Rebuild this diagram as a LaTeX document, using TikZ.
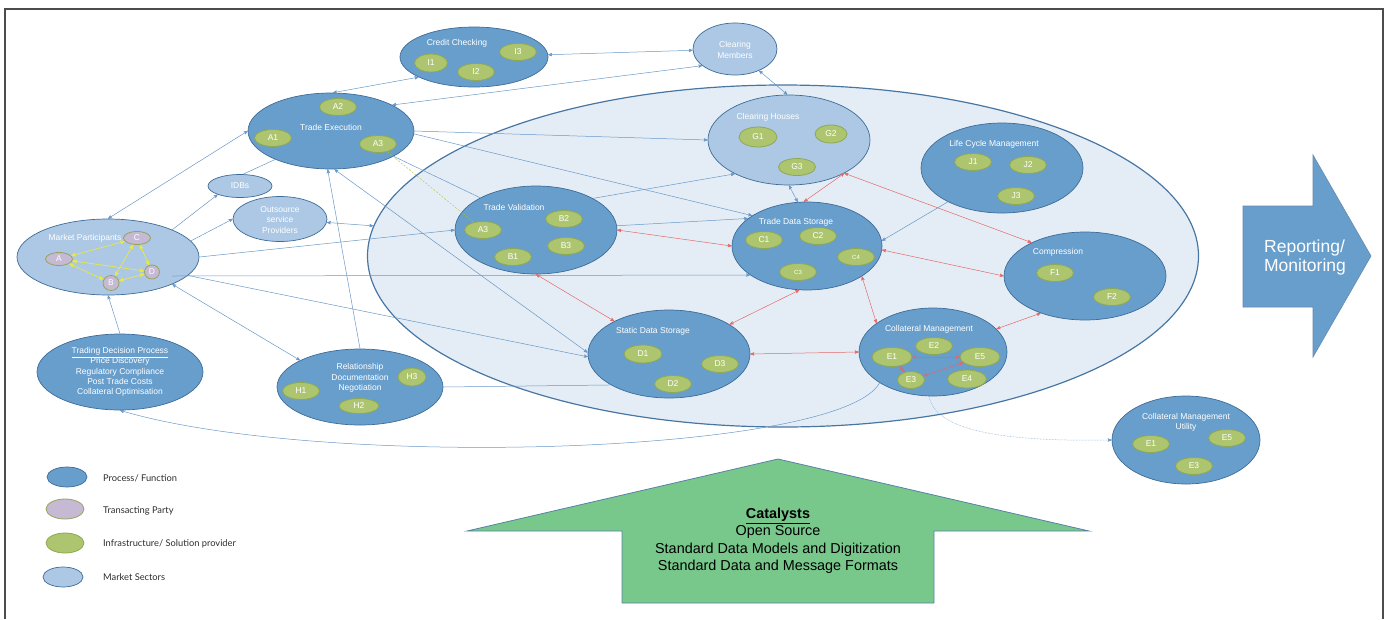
\documentclass[tikz,border=0pt]{standalone}
\usepackage{fontspec}
\setmainfont{Liberation Sans}
\setsansfont{Liberation Sans}
\newfontfamily\legendfont{Lato}
\usetikzlibrary{arrows,shapes.geometric,positioning,calc}
\definecolor{procfill}{RGB}{104,158,204}
\definecolor{procline}{RGB}{62,108,152}
\definecolor{sectfill}{RGB}{172,200,228}
\definecolor{bigfill}{RGB}{228,237,246}
\definecolor{bigline}{RGB}{72,118,163}
\definecolor{infrafill}{RGB}{174,197,112}
\definecolor{infraline}{RGB}{142,168,84}
\definecolor{partyfill}{RGB}{197,185,212}
\definecolor{partyline}{RGB}{150,163,95}
\definecolor{flowblue}{RGB}{104,152,200}
\definecolor{linkred}{RGB}{228,104,104}
\definecolor{linkyellow}{RGB}{232,232,70}
\definecolor{catfill}{RGB}{120,200,140}
\definecolor{catline}{RGB}{88,130,165}
\definecolor{legink}{RGB}{45,45,45}
\tikzset{>=stealth',
  wh/.style 2 args={minimum width=#1pt,minimum height=#2pt},
  process/.style={ellipse,draw=procline,fill=procfill,line width=0.7pt,inner sep=0pt},
  sector/.style={process,fill=sectfill},
  infra/.style={ellipse,draw=infraline,fill=infrafill,line width=0.8pt,inner sep=0pt,
    wh={37}{17},text=white,font=\fontsize{8.5}{10}\selectfont},
  party/.style={infra,draw=partyline,fill=partyfill,wh={27}{13}},
  texto/.style={text=white,align=center,inner sep=0pt,font=\fontsize{8.5}{10.3}\selectfont},
  legtext/.style={text=legink,anchor=west,inner sep=0pt,font=\legendfont\fontsize{9.3}{11}\selectfont},
  flow/.style={draw=flowblue,line width=0.5pt},
  link/.style={<->,draw=linkred,line width=0.5pt},
  peer/.style={<->,draw=linkyellow,line width=0.7pt},
  hint/.style={draw=infraline!70!yellow,line width=0.4pt,dash pattern=on 2pt off 1.5pt},
  frame/.style={draw=black!70,line width=1.2pt}
}
\newcommand\Infra[4][]{\node[infra,#1] (#2) at (#3) {#4};}
\begin{document}
\begin{tikzpicture}[x=1pt,y=-1pt]
\useasboundingbox (0,0) rectangle (1389,619);
\draw[frame] (5,619) -- (5,9) -- (1383,9) -- (1383,619);

% the market sector backdrop
\node[ellipse,draw=bigline,fill=bigfill,line width=1.2pt,wh={831}{342}] (sector) at (783,256) {};

% processes, sectors and their providers
\node[process,wh={148}{60}] (cc) at (474,57) {};
\node[texto] (cc-t) at (457,43) {Credit Checking};
\Infra[wh={33}{18}]{i1}{431,63}{I1}
\Infra{i2}{476,72}{I2}
\Infra{i3}{518,52}{I3}

\node[sector,wh={84}{52}] (cmem) at (735,49) {};
\node[texto] (cmem-t) at (735,50) {Clearing\\Members};

\node[process,wh={166}{76}] (te) at (331,131) {};
\node[texto] (te-t) at (331,127) {Trade Execution};
\Infra{tea1}{273,138}{A1}
\Infra{tea2}{338,107}{A2}
\Infra{tea3}{378,144}{A3}

\node[sector,wh={64}{23}] (idb) at (240,186) {};
\node[texto] (idb-t) at (240,186) {IDBs};
\node[sector,wh={94}{45}] (osp) at (280,219) {};
\node[texto] (osp-t) at (280,220) {Outsource\\service\\Providers};

\node[sector,wh={182}{76}] (mp) at (108,257) {};
\node[texto] (mp-t) at (85,238) {Market Participants};
\node[party] (pc) at (137,238) {C};
\node[party] (pa) at (59,259) {A};
\node[party,wh={16}{15}] (pb) at (111,283) {B};
\node[party,wh={15}{14}] (pd) at (152,272) {D};

\node[process,wh={166}{76}] (tdp) at (120,372) {};
\node[texto] (tdp-t) at (120,372) {\underline{Trading Decision Process}\\Price Discovery\\Regulatory Compliance\\Post Trade Costs\\Collateral Optimisation};

\node[process,wh={166}{76}] (rdn) at (360,387) {};
\node[texto] (rdn-t) at (360,378) {Relationship\\Documentation\\Negotiation};
\Infra{h1}{301,391}{H1}
\Infra[wh={40}{15}]{h2}{359,406}{H2}
\Infra[wh={28}{18}]{h3}{412,377}{H3}

\node[process,wh={162}{88}] (tv) at (536,230) {};
\node[texto] (tv-t) at (514,207) {Trade Validation};
\Infra{tva3}{483,230}{A3}
\Infra{b2}{564,219}{B2}
\Infra{b3}{566,246}{B3}
\Infra{b1}{513,257}{B1}

\node[sector,wh={162}{90}] (ch) at (789,140) {};
\node[texto] (ch-t) at (768,117) {Clearing Houses};
\Infra[wh={38}{20}]{g1}{758,137}{G1}
\Infra[wh={32}{18}]{g2}{831,134}{G2}
\Infra{g3}{797,167}{G3}

\node[process,wh={162}{90}] (lcm) at (1002,168) {};
\node[texto] (lcm-t) at (994,144) {Life Cycle Management};
\Infra{j1}{973,162}{J1}
\Infra{j2}{1028,165}{J2}
\Infra{j3}{1016,196}{J3}

\node[process,wh={150}{88}] (tds) at (807,246) {};
\node[texto] (tds-t) at (796,222) {Trade Data Storage};
\Infra{c1}{764,240}{C1}
\Infra{c2}{818,236}{C2}
\Infra[font=\fontsize{6}{7}\selectfont]{c4}{856,257}{C4}
\Infra[font=\fontsize{6}{7}\selectfont]{c3}{798,272}{C3}

\node[process,wh={162}{88}] (comp) at (1085,276) {};
\node[texto] (comp-t) at (1058,252) {Compression};
\Infra{f1}{1055,273}{F1}
\Infra{f2}{1112,297}{F2}

\node[process,wh={162}{88}] (sds) at (669,354) {};
\node[texto] (sds-t) at (653,331) {Static Data Storage};
\Infra[wh={38}{18}]{d1}{643,354}{D1}
\Infra{d3}{720,364}{D3}
\Infra{d2}{673,384}{D2}

\node[process,wh={148}{88}] (colm) at (933,352) {};
\node[texto] (colm-t) at (929,329) {Collateral Management};
\Infra{e2}{934,346}{E2}
\Infra[wh={40}{19}]{e1}{892,357}{E1}
\Infra[wh={40}{19}]{e5}{980,357}{E5}
\Infra[wh={27}{17}]{e3}{911,380}{E3}
\Infra[wh={39}{18}]{e4}{967,379}{E4}

\node[process,wh={148}{88}] (cmu) at (1186,440) {};
\node[texto] (cmu-t) at (1186,422) {Collateral Management\\Utility};
\Infra{ue1}{1151,444}{E1}
\Infra{ue5}{1227,438}{E5}
\Infra{ue3}{1194,466}{E3}

% blue flows
\draw[flow,<->] (te.87) -- (cc.200);
\draw[flow,<->] (cc) -- (cmem);
\draw[flow,<->] (cmem.207) -- (te.23);
\draw[flow,<->] (cmem.318) -- (ch.92);
\draw[flow,->] (te.east) -- (ch.west);
\draw[flow,->] (te.358) -- (tds.151);
\draw[flow] (te.338) -- (tv.150);
\draw[flow,<->] (te.275) -- (sds.179);
\draw[flow,->] (rdn.north) -- (te.265);
\coordinate (mp-h) at (172,276);
\draw[flow,->] (mp-h) -- (tds.207);
\draw[flow,->] (mp.east) -- (tv.west);
\draw[flow,->] (mp.11) -- (osp.west);
\draw[flow,->] (mp.23) -- (idb.201);
\draw[flow] (idb.75) -- (te.207);
\draw[flow,<->] (mp.north) -- (te.west);
\draw[flow,<->] (osp) -- (sector);
\draw[flow,->] (tdp.north) -- (mp.south);
\draw[flow,<->] (mp.337) -- (rdn.156);
\draw[flow,->] (mp.347) -- (sds.182);
\draw[flow] (rdn.east) -- (sds.208);
\draw[flow,->] (colm.210) .. controls (840,455) and (320,470) .. (tdp.south);
\draw[flow,densely dotted,->] (colm.265) .. controls (935,430) and (1000,442) .. (cmu.west);
\draw[flow,->] (tv.29) -- (ch.212);
\draw[flow,->] (tv.3) -- (tds.155);
\draw[flow,<->] (ch.south) -- (tds.102);
\draw[flow,->] (lcm.212) -- (tds.4);
\draw[hint] (tea3) -- (tva3);

% red links
\draw[link] (tv.east) -- (tds.west);
\draw[link] (tv.south) -- (sds.149);
\draw[link] (sds.26) -- (tds.260);
\draw[link] (sds.east) -- (colm.west);
\draw[link] (tds.331) -- (colm.153);
\draw[link] (tds.357) -- (comp.west);
\draw[link] (comp.220) -- (colm.20);
\draw[link] (ch.329) -- (tds.94);
\draw[link] (ch.329) -- (comp.148);
\draw[link] (e1) -- (e5);
\draw[link] (e1) -- (e3);
\draw[link] (e3) -- (e5);

% transacting parties
\draw[peer] (pa) -- (pc);
\draw[peer] (pa) -- (pd);
\draw[peer] (pa) -- (pb);
\draw[peer] (pb) -- (pc);
\draw[peer] (pc) -- (pd);
\draw[peer] (pb) -- (pd);

% big arrows
\draw[draw=catline,fill=catfill,line width=0.8pt] (622,603) -- (622,531) -- (467,531) -- (778,459)
  -- (1089,531) -- (934,531) -- (934,603) -- cycle;
\node[align=center,inner sep=0pt,font=\fontsize{14.4}{17.5}\selectfont] (cat-t) at (778,541)
  {\underline{\textbf{Catalysts}}\\Open Source\\Standard Data Models and Digitization\\Standard Data and Message Formats};
\draw[draw=procline!80,fill=procfill,line width=0.6pt] (1243,206) -- (1313,206) -- (1313,155) -- (1371,256)
  -- (1313,357) -- (1313,307) -- (1243,307) -- cycle;
\node[text=white,align=left,inner sep=0pt,font=\fontsize{17.5}{19}\selectfont] (rep-t) at (1305,257) {Reporting/\\Monitoring};

% legend
\node[process,wh={40}{20}] (leg1) at (67,477) {};
\node[legtext] (leg1-t) at (103,478) {Process/ Function};
\node[party,wh={38}{20}] (leg2) at (65,509) {};
\node[legtext] (leg2-t) at (103,511) {Transacting Party};
\node[infra,wh={38}{20}] (leg3) at (65,543) {};
\node[legtext] (leg3-t) at (103,544) {Infrastructure/ Solution provider};
\node[sector,wh={40}{20}] (leg4) at (63,577) {};
\node[legtext] (leg4-t) at (103,577) {Market Sectors};
\end{tikzpicture}
\end{document}
